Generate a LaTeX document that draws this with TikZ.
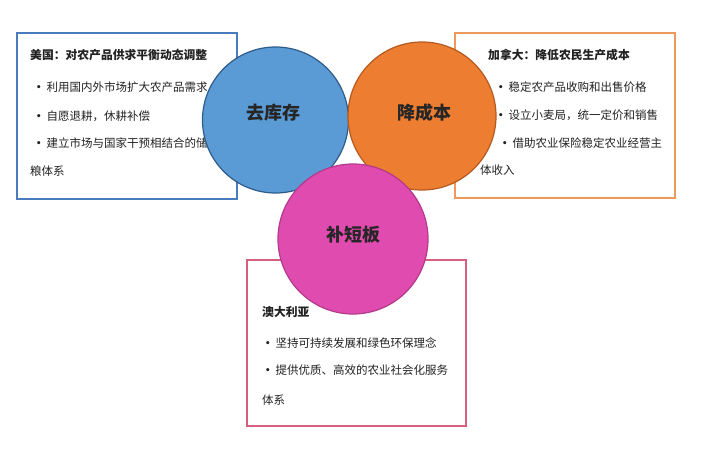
\documentclass[tikz,border=0pt]{standalone}
\usepackage{fontspec}
\setmainfont{Noto Sans CJK SC}
\definecolor{bxblue}{HTML}{4A7BBE}
\definecolor{bxorange}{HTML}{EE9A5E}
\definecolor{bxpink}{HTML}{D4607E}
\definecolor{cblue}{HTML}{5B9BD5}
\definecolor{cbluedk}{HTML}{2E5C8A}
\definecolor{corange}{HTML}{ED7D31}
\definecolor{corangedk}{HTML}{B55A1E}
\definecolor{cpink}{HTML}{E04BAF}
\definecolor{cpinkdk}{HTML}{B33A8A}
\definecolor{txt}{HTML}{222222}
\begin{document}
\begin{tikzpicture}[x=1pt,y=-1pt,
  box/.style={draw, line width=1.5pt, fill=white, inner sep=0pt},
  circ/.style={circle, line width=1.2pt, inner sep=0pt},
  item/.style={anchor=west, inner sep=0pt, text=txt, font=\fontsize{11.5}{13}\selectfont},
  ttl/.style={item, font=\fontsize{11.8}{13}\selectfont\bfseries},
  lbl/.style={text=black!85, font=\fontsize{18}{20}\selectfont\bfseries}]
\useasboundingbox (0,0) rectangle (718,452);
% boxes
\node[box, draw=bxblue, minimum width=220pt, minimum height=166pt] (usbox) at (127,116) {};
\node[box, draw=bxorange, minimum width=220pt, minimum height=165pt] (cabox) at (565,115.5) {};
\node[box, draw=bxpink, minimum width=219pt, minimum height=166pt] (aubox) at (356.5,343) {};
% left box texts
\node[ttl] (us0) at (30,55) {美国：对农产品供求平衡动态调整};
\node[item] (us1) at (33,87) {{\bfseries·}\,利用国内外市场扩大农产品需求};
\node[item] (us2) at (33,116) {{\bfseries·}\,自愿退耕，休耕补偿};
\node[item] (us3) at (33,143) {{\bfseries·}\,建立市场与国家干预相结合的储};
\node[item] (us4) at (30,171) {粮体系};
% right box texts
\node[ttl] (ca0) at (488,55) {加拿大：降低农民生产成本};
\node[item] (ca1) at (495,87) {{\bfseries·}\,稳定农产品收购和出售价格};
\node[item] (ca2) at (495,115) {{\bfseries·}\,设立小麦局，统一定价和销售};
\node[item] (ca3) at (499,143) {{\bfseries·}\,借助农业保险稳定农业经营主};
\node[item] (ca4) at (480,170) {体收入};
% bottom box texts
\node[ttl] (au0) at (262,312) {澳大利亚};
\node[item] (au1) at (262,343) {{\bfseries·}\,坚持可持续发展和绿色环保理念};
\node[item] (au2) at (262,370) {{\bfseries·}\,提供优质、高效的农业社会化服务};
\node[item] (au3) at (262,400) {体系};
% circles
\node[circ, fill=cblue, draw=cbluedk, minimum size=146pt] (c1) at (275.5,120) {};
\node[circ, fill=corange, draw=corangedk, minimum size=148pt] (c2) at (422,116) {};
\node[circ, fill=cpink, draw=cpinkdk, minimum size=150pt] (c3) at (353,239) {};
\node[lbl] at (c1.center) [yshift=7pt, xshift=-2pt] {去库存};
\node[lbl] at (c2.center) [yshift=3pt, xshift=2pt] {降成本};
\node[lbl] at (c3.center) [yshift=4pt] {补短板};
\end{tikzpicture}
\end{document}
